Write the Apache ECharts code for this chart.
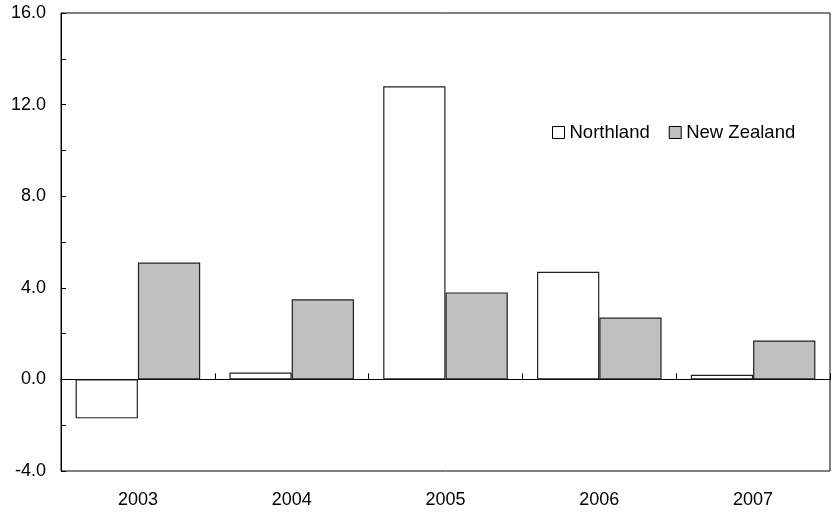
<!DOCTYPE html>
<html>
<head>
<meta charset="utf-8">
<script src="https://cdn.jsdelivr.net/npm/echarts@6/dist/echarts.min.js"></script>
<style>
  html, body { margin: 0; padding: 0; background: #fff; }
  #chart { width: 837px; height: 512px; }
</style>
</head>
<body>
<div id="chart"></div>
<script>
// Annual change (%) by year, Northland vs New Zealand
const years = ['2003', '2004', '2005', '2006', '2007'];
const northland = [-1.7, 0.3, 12.8, 4.7, 0.2];
const newZealand = [5.1, 3.5, 3.8, 2.7, 1.7];
const yTicks = { min: -4, max: 16, step: 4 };

const FONT = 'Liberation Sans, Arial, sans-serif';
const chart = echarts.init(document.getElementById('chart'));

chart.setOption({
  animation: false,
  grid: {
    left: 61, right: 7, top: 13, bottom: 41,
    show: true, borderColor: '#000', borderWidth: 1, backgroundColor: 'transparent'
  },
  legend: {
    left: 552, top: 123, padding: 0,
    itemWidth: 12, itemHeight: 12, itemGap: 19,
    textStyle: { fontFamily: FONT, fontSize: 18.5, color: '#000' },
    data: [
      { name: 'Northland', icon: 'rect', itemStyle: { color: '#fff', borderColor: '#000', borderWidth: 1 } },
      { name: 'New Zealand', icon: 'rect', itemStyle: { color: '#c0c0c0', borderColor: '#000', borderWidth: 1 } }
    ]
  },
  xAxis: [
    {
      // labels along the bottom edge
      type: 'category', data: years, position: 'bottom',
      axisLine: { show: false, onZero: false },
      axisTick: { show: false },
      axisLabel: { fontFamily: FONT, fontSize: 18, color: '#000', margin: 20 }
    },
    {
      // zero line with category boundary ticks
      type: 'category', data: years, position: 'bottom',
      axisLine: { show: true, onZero: true, lineStyle: { color: '#000', width: 1 } },
      axisTick: { show: true, inside: true, length: 6, lineStyle: { color: '#000' } },
      axisLabel: { show: false }
    }
  ],
  yAxis: {
    type: 'value', min: yTicks.min, max: yTicks.max, interval: yTicks.step,
    axisLine: { show: true, lineStyle: { color: '#000', width: 1 } },
    axisTick: { show: true, inside: true, length: 5, lineStyle: { color: '#000' } },
    minorTick: { show: true, splitNumber: 2, length: 5, lineStyle: { color: '#000' } },
    splitLine: { show: false },
    axisLabel: {
      fontFamily: FONT, fontSize: 18, color: '#000', margin: 15,
      formatter: v => v.toFixed(1)
    }
  },
  series: [
    {
      name: 'Northland', type: 'bar', data: northland,
      barGap: '0%', barCategoryGap: '19%',
      itemStyle: { color: '#fff', borderColor: '#222', borderWidth: 1.2 }
    },
    {
      name: 'New Zealand', type: 'bar', data: newZealand,
      barGap: '0%', barCategoryGap: '19%',
      itemStyle: { color: '#c0c0c0', borderColor: '#222', borderWidth: 1.2 }
    }
  ]
});
</script>
</body>
</html>
